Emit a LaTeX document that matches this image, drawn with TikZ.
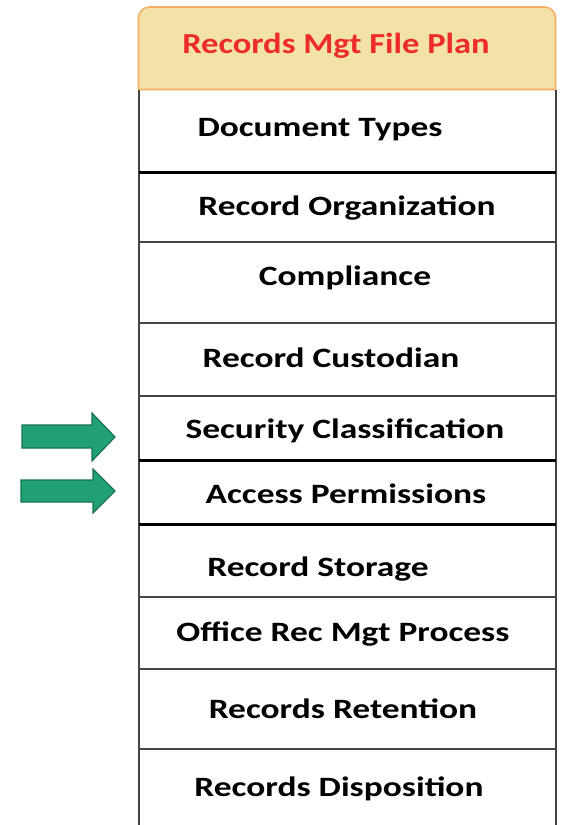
\documentclass[tikz,border=0pt]{standalone}
\usepackage{graphicx}
\usepackage{fontspec}
\setmainfont{Carlito}
\definecolor{headfill}{HTML}{F3E2A7}
\definecolor{headedge}{HTML}{F4B062}
\definecolor{headred}{HTML}{EE2B2B}
\definecolor{gridgray}{HTML}{444444}
\definecolor{arrowfill}{HTML}{21A073}
\definecolor{arrowedge}{HTML}{17734F}
% labels are set in a horizontally widened bold face
\newcommand\widetitle[1]{\scalebox{1.19}[1]{#1}}
\newcommand\widerow[1]{\scalebox{1.265}[1]{#1}}
\tikzset{
  titletext/.style={font=\bfseries\fontsize{29}{30}\selectfont, text=headred, inner sep=0pt, anchor=base},
  rowtext/.style={font=\bfseries\fontsize{28}{29}\selectfont, text=black, inner sep=0pt, anchor=base},
  thinrule/.style={draw=gridgray, line width=1.6pt},
  thickrule/.style={draw=black, line width=3pt},
  siderule/.style={draw=gridgray, line width=2pt},
  pointer/.style={fill=arrowfill, draw=arrowedge, line width=1.2pt, line join=miter}
}
\begin{document}
\begin{tikzpicture}[x=1pt,y=-1pt]
\useasboundingbox (0,0) rectangle (561,825);

% header band with rounded top corners
\draw[fill=headfill, draw=headedge, line width=1.6pt]
  (138.5,89.5) [rounded corners=11pt] -- (138.5,7) -- (555.5,7) [sharp corners] -- (555.5,89.5) -- cycle;
\node[titletext] (title) at (336,53) {\widetitle{Records Mgt File Plan}};

% outer sides of the list
\draw[siderule] (138.5,89.5) -- (138.5,826);
\draw[siderule] (555.5,89.5) -- (555.5,826);

% row separators
\foreach \y in {242,323,396,597,669,749} {
  \draw[thinrule] (138.5,\y) -- (555.5,\y);
}
\foreach \y in {172,460,524.5} {
  \draw[thickrule] (138.5,\y) -- (555.5,\y);
}

% row labels (positioned on their baselines)
\node[rowtext] (doctypes) at (320,136) {\widerow{Document Types}};
\node[rowtext] (recorg)   at (347,215) {\widerow{Record Organization}};
\node[rowtext] (compl)    at (345,285) {\widerow{Compliance}};
\node[rowtext] (custod)   at (331,367) {\widerow{Record Custodian}};
\node[rowtext] (secclass) at (345,438) {\widerow{Security Classification}};
\node[rowtext] (access)   at (346,503) {\widerow{Access Permissions}};
\node[rowtext] (storage)  at (318,576) {\widerow{Record Storage}};
\node[rowtext] (process)  at (343,641) {\widerow{Office Rec Mgt Process}};
\node[rowtext] (retain)   at (343,718) {\widerow{Records Retention}};
\node[rowtext] (dispose)  at (339,796) {\widerow{Records Disposition}};

% block arrows pointing at the two highlighted rows
\draw[pointer] (22,425) -- (92,425) -- (92,413) -- (115,437) -- (92,461) -- (92,448) -- (22,448) -- cycle;
\draw[pointer] (21,480) -- (93,480) -- (93,469) -- (115,491) -- (93,513) -- (93,502) -- (21,502) -- cycle;
\end{tikzpicture}
\end{document}
